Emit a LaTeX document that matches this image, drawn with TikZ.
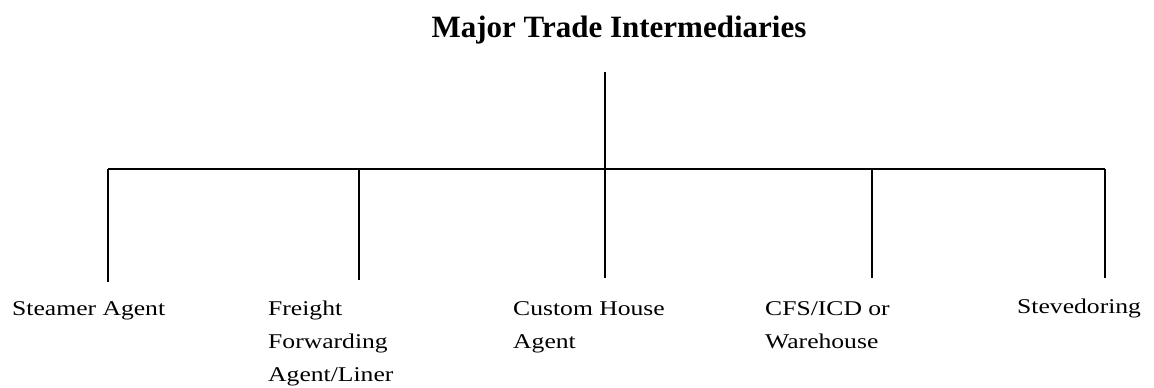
\documentclass[tikz,border=0pt]{standalone}
\usepackage{fontspec}
\setmainfont{Liberation Serif}
\newfontfamily\labelfont{Liberation Serif}[FakeStretch=1.22]
\begin{document}
\begin{tikzpicture}[x=1pt,y=-1pt,
  heading/.style={inner sep=0pt,anchor=base,font=\fontsize{31}{36}\selectfont\bfseries},
  % multi-line leaves sit on the baseline of their last line
  leaf/.style={inner sep=0pt,anchor=base west,align=left,font=\labelfont\fontsize{21}{33}\selectfont},
  branch/.style={draw=black,line width=1.3pt}]
\useasboundingbox (0,0) rectangle (1154,388);

% heading
\node[heading] (title) at (619,37) {Major Trade Intermediaries};

% tree skeleton
\coordinate (stem) at (605,72);
\coordinate (hub) at (605,169);
\coordinate (barL) at (108,169);
\coordinate (barR) at (1105,169);
\coordinate (b1) at (108,169);
\coordinate (b2) at (359,169);
\coordinate (b3) at (605,169);
\coordinate (b4) at (872,169);
\coordinate (b5) at (1105,169);
\coordinate (t1) at (108,282);
\coordinate (t2) at (359,280);
\coordinate (t3) at (605,278);
\coordinate (t4) at (872,278);
\coordinate (t5) at (1105,278);

\draw[branch] (stem) -- (hub);
\draw[branch] (barL) -- (barR);
\foreach \i in {1,...,5} \draw[branch] (b\i) -- (t\i);

% leaves
\node[leaf] (steamer) at (12,315) {Steamer Agent};
\node[leaf] (freight) at (268,381) {Freight\\Forwarding\\Agent/Liner};
\node[leaf] (custom) at (513,348) {Custom House\\Agent};
\node[leaf] (cfs) at (765,348) {CFS/ICD or\\Warehouse};
\node[leaf] (steve) at (1017,313) {Stevedoring};
\end{tikzpicture}
\end{document}
